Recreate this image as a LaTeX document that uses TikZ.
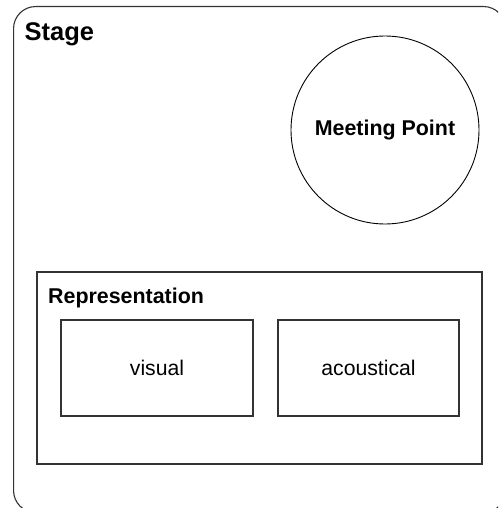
\documentclass[tikz,border=0pt]{standalone}
\usepackage{fontspec}
\setmainfont{Liberation Sans}
\begin{document}
\begin{tikzpicture}[x=1pt,y=-1pt,
  frame/.style={draw=black!80, line width=1.1pt, inner sep=0pt},
  titletext/.style={font=\fontsize{25.5}{30}\selectfont\bfseries},
  boldtext/.style={font=\fontsize{21.4}{25}\selectfont\bfseries},
  plaintext/.style={font=\fontsize{21.2}{25}\selectfont}]
\useasboundingbox (0,0) rectangle (498,508);
\clip (0,0) rectangle (498,508);
% outer stage frame, running past the right and bottom edges
\node[frame, rounded corners=22pt, minimum width=492pt, minimum height=506pt,
      anchor=north west] (stage) at (13,6) {};
\node[titletext, anchor=base west, inner sep=0pt] (stagelbl) at (24.5,41) {Stage};
% meeting point
\node[draw=black, line width=0.9pt, circle, minimum size=188pt, inner sep=0pt,
      boldtext] (meet) at (385,130) {Meeting Point};
% representation group
\node[frame, minimum width=445pt, minimum height=192pt] (repr) at (259.5,368) {};
\node[boldtext, anchor=base west, inner sep=0pt] (reprlbl) at (48,303) {Representation};
\node[frame, plaintext, minimum width=192pt, minimum height=96pt] (visual) at (157,368) {visual};
\node[frame, plaintext, minimum width=181pt, minimum height=96pt] (acoustical) at (368.5,368) {acoustical};
\end{tikzpicture}
\end{document}
